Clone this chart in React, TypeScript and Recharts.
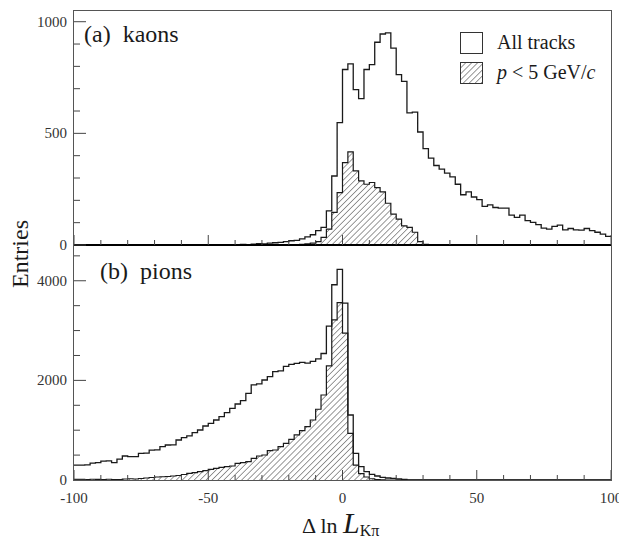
import React from 'react'
import { Area, ComposedChart, Legend, XAxis, YAxis } from 'recharts'

/* ---------- binning: 100 bins of width 2 from -100 to 100 ---------- */
const BIN_START = -100
const BIN_WIDTH = 2

// kaons, all tracks (entries per bin, left to right)
const kaonAll = [
  0, 0, 0, 0, 0, 0, 0, 0, 0, 0,
  0, 0, 0, 0, 0, 0, 0, 0, 0, 0,
  0, 0, 0, 0, 0, 0, 0, 0, 0, 0,
  2, 3, 2, 4, 6, 5, 8, 10, 12, 15,
  19, 21, 27, 36, 46, 64, 79, 153, 309, 548,
  786, 811, 696, 656, 786, 808, 908, 945, 950, 882,
  763, 733, 592, 595, 506, 432, 389, 356, 340, 322,
  305, 272, 225, 238, 215, 203, 173, 180, 168, 165,
  165, 134, 124, 134, 109, 101, 91, 76, 71, 83,
  89, 68, 74, 68, 67, 74, 64, 57, 49, 39,
]

// kaons, p < 5 GeV/c
const kaonLow = [
  0, 0, 0, 0, 0, 0, 0, 0, 0, 0,
  0, 0, 0, 0, 0, 0, 0, 0, 0, 0,
  0, 0, 0, 0, 0, 0, 0, 0, 0, 0,
  0, 0, 0, 0, 0, 0, 0, 0, 0, 0,
  0, 0, 3, 5, 8, 15, 34, 71, 146, 235,
  369, 417, 332, 287, 272, 280, 257, 238, 187, 138,
  116, 86, 79, 57, 15, 3, 0, 0, 0, 0,
  0, 0, 0, 0, 0, 0, 0, 0, 0, 0,
  0, 0, 0, 0, 0, 0, 0, 0, 0, 0,
  0, 0, 0, 0, 0, 0, 0, 0, 0, 0,
]

// pions, all tracks
const pionAll = [
  300, 300, 305, 340, 350, 380, 382, 350, 420, 482,
  470, 468, 535, 540, 600, 605, 669, 703, 705, 803,
  850, 884, 950, 1004, 1084, 1138, 1205, 1272, 1352, 1439,
  1526, 1593, 1740, 1908, 1928, 2008, 2075, 2175, 2190, 2280,
  2320, 2340, 2360, 2345, 2380, 2430, 2540, 3090, 3920, 4230,
  3550, 1305, 535, 268, 167, 114, 80, 54, 40, 33,
  20, 10, 4, 0, 0, 0, 0, 0, 0, 0,
  0, 0, 0, 0, 0, 0, 0, 0, 0, 0,
  0, 0, 0, 0, 0, 0, 0, 0, 0, 0,
  0, 0, 0, 0, 0, 0, 0, 0, 0, 0,
]

// pions, p < 5 GeV/c
const pionLow = [
  12, 14, 10, 15, 12, 10, 15, 8, 10, 20,
  25, 20, 30, 40, 50, 60, 65, 70, 80, 90,
  110, 134, 147, 167, 187, 214, 234, 254, 270, 281,
  335, 348, 368, 435, 482, 502, 589, 602, 669, 736,
  817, 904, 990, 1071, 1205, 1420, 1707, 2290, 3213, 3560,
  2950, 937, 300, 130, 60, 25, 10, 5, 0, 0,
  0, 0, 0, 0, 0, 0, 0, 0, 0, 0,
  0, 0, 0, 0, 0, 0, 0, 0, 0, 0,
  0, 0, 0, 0, 0, 0, 0, 0, 0, 0,
  0, 0, 0, 0, 0, 0, 0, 0, 0, 0,
]

const xTicks = [-100, -90, -80, -70, -60, -50, -40, -30, -20, -10, 0, 10, 20, 30, 40, 50, 60, 70, 80, 90, 100]
const xLabels = [-100, -50, 0, 50, 100]
const kaonTicks = [0, 100, 200, 300, 400, 500, 600, 700, 800, 900, 1000]
const kaonLabels = [0, 500, 1000]
const pionTicks = [0, 500, 1000, 1500, 2000, 2500, 3000, 3500, 4000, 4500]
const pionLabels = [0, 2000, 4000]

const SERIF = '"Liberation Serif", "DejaVu Serif", serif'
const INK = '#1a1a1a'
const AXIS = '#444'

// stepAfter needs one extra point at the right edge of the last bin
function toSteps(all: number[], low: number[]) {
  const rows = all.map((v, i) => ({ x: BIN_START + i * BIN_WIDTH, all: v, low: low[i] }))
  rows.push({
    x: BIN_START + all.length * BIN_WIDTH,
    all: all[all.length - 1],
    low: low[low.length - 1],
  })
  return rows
}

const kaonData = toSteps(kaonAll, kaonLow)
const pionData = toSteps(pionAll, pionLow)

function XTick({ x, y, payload, showLabels }: any) {
  const major = xLabels.includes(payload.value)
  return (
    <g>
      <line x1={x} x2={x} y1={y} y2={y - (major ? 10 : 5)} stroke={AXIS} strokeWidth={1} />
      {showLabels && major && (
        <text x={x} y={y + 23} textAnchor="middle" fontSize={15} fill="#333" fontFamily={SERIF}>
          {payload.value}
        </text>
      )}
    </g>
  )
}

function YTick({ x, y, payload, labels }: any) {
  const major = labels.includes(payload.value)
  return (
    <g>
      <line x1={x} x2={x + (major ? 12 : 6)} y1={y} y2={y} stroke={AXIS} strokeWidth={1} />
      {major && (
        <text x={x - 7} y={y + 5} textAnchor="end" fontSize={15} fill="#333" fontFamily={SERIF}>
          {payload.value}
        </text>
      )}
    </g>
  )
}

function Hatch({ id }: { id: string }) {
  return (
    <pattern id={id} width="4.2" height="4.2" patternUnits="userSpaceOnUse" patternTransform="rotate(45)">
      <line x1="0" y1="0" x2="0" y2="4.2" stroke="#333" strokeWidth={1} />
    </pattern>
  )
}

function LegendContent() {
  const row = { display: 'flex', alignItems: 'center', height: 21, marginBottom: 9 }
  return (
    <div style={{ fontFamily: SERIF, fontSize: 20, color: INK, whiteSpace: 'nowrap' }}>
      <div style={row}>
        <svg width={23} height={22}>
          <rect x={0.5} y={0.5} width={22} height={21} fill="#fff" stroke="#333" />
        </svg>
        <span style={{ marginLeft: 14 }}>All tracks</span>
      </div>
      <div style={row}>
        <svg width={23} height={22}>
          <defs>
            <Hatch id="hatchLegend" />
          </defs>
          <rect x={0.5} y={0.5} width={22} height={21} fill="url(#hatchLegend)" stroke="#333" />
        </svg>
        <span style={{ marginLeft: 14 }}>
          <i>p</i> &lt; 5 GeV/<i>c</i>
        </span>
      </div>
    </div>
  )
}

export default function App() {
  return (
    <div
      style={{
        position: 'absolute',
        left: 0,
        top: 0,
        width: 619,
        height: 539,
        background: '#fff',
        fontFamily: SERIF,
        overflow: 'hidden',
      }}
    >
      {/* (a) kaons */}
      <div style={{ position: 'absolute', left: 0, top: 0 }}>
        <ComposedChart width={619} height={262} data={kaonData} margin={{ top: 11, right: 8, bottom: 15, left: 14 }}>
          <defs>
            <Hatch id="hatchA" />
          </defs>
          <XAxis
            dataKey="x"
            type="number"
            domain={[-100, 100]}
            ticks={xTicks}
            interval={0}
            height={2}
            tickSize={0}
            tickMargin={0}
            tickLine={false}
            axisLine={{ stroke: '#000', strokeWidth: 2 }}
            tick={<XTick showLabels={false} />}
          />
          <YAxis
            type="number"
            domain={[0, 1048]}
            allowDataOverflow
            ticks={kaonTicks}
            interval={0}
            width={60}
            tickSize={0}
            tickMargin={0}
            tickLine={false}
            axisLine={false}
            tick={<YTick labels={kaonLabels} />}
          />
          <Area
            type="stepAfter"
            dataKey="low"
            stroke={INK}
            strokeWidth={1.2}
            fill="url(#hatchA)"
            fillOpacity={1}
            dot={false}
            activeDot={false}
            isAnimationActive={false}
          />
          <Area
            type="stepAfter"
            dataKey="all"
            stroke={INK}
            strokeWidth={1.3}
            fill="none"
            dot={false}
            activeDot={false}
            isAnimationActive={false}
          />
          <Legend
            layout="horizontal"
            verticalAlign="middle"
            align="center"
            content={() => <LegendContent />}
            wrapperStyle={{ left: 460, top: 32, width: 160 }}
          />
        </ComposedChart>
      </div>

      {/* (b) pions */}
      <div style={{ position: 'absolute', left: 0, top: 240 }}>
        <ComposedChart width={619} height={299} data={pionData} margin={{ top: 5, right: 8, bottom: 19, left: 14 }}>
          <defs>
            <Hatch id="hatchB" />
          </defs>
          <XAxis
            dataKey="x"
            type="number"
            domain={[-100, 100]}
            ticks={xTicks}
            interval={0}
            height={40}
            tickSize={0}
            tickMargin={0}
            tickLine={false}
            axisLine={false}
            tick={<XTick showLabels />}
          />
          <YAxis
            type="number"
            domain={[0, 4718]}
            allowDataOverflow
            ticks={pionTicks}
            interval={0}
            width={60}
            tickSize={0}
            tickMargin={0}
            tickLine={false}
            axisLine={false}
            tick={<YTick labels={pionLabels} />}
          />
          <Area
            type="stepAfter"
            dataKey="low"
            stroke={INK}
            strokeWidth={1.2}
            fill="url(#hatchB)"
            fillOpacity={1}
            dot={false}
            activeDot={false}
            isAnimationActive={false}
          />
          <Area
            type="stepAfter"
            dataKey="all"
            stroke={INK}
            strokeWidth={1.3}
            fill="none"
            dot={false}
            activeDot={false}
            isAnimationActive={false}
          />
        </ComposedChart>
      </div>

      {/* frame round both panels */}
      <div
        style={{
          position: 'absolute',
          left: 73.4,
          top: 10.4,
          width: 537,
          height: 469,
          border: '1.3px solid #555',
          pointerEvents: 'none',
        }}
      />

      <div style={{ position: 'absolute', left: 84, top: 21, fontSize: 24, color: INK, whiteSpace: 'pre' }}>
        (a)  kaons
      </div>
      <div style={{ position: 'absolute', left: 100, top: 258, fontSize: 24, color: INK, whiteSpace: 'pre' }}>
        (b)  pions
      </div>

      <div
        style={{
          position: 'absolute',
          left: 20,
          top: 254,
          fontSize: 24,
          color: INK,
          transform: 'translate(-50%, -50%) rotate(-90deg)',
          whiteSpace: 'nowrap',
        }}
      >
        Entries
      </div>

      <div style={{ position: 'absolute', left: 302, top: 509, color: INK, whiteSpace: 'nowrap', lineHeight: '27px' }}>
        <span style={{ fontSize: 22 }}>Δ ln </span>
        <span style={{ fontSize: 30, fontStyle: 'italic' }}>L</span>
        <span style={{ fontSize: 16, position: 'relative', top: 3 }}>Kπ</span>
      </div>
    </div>
  )
}
